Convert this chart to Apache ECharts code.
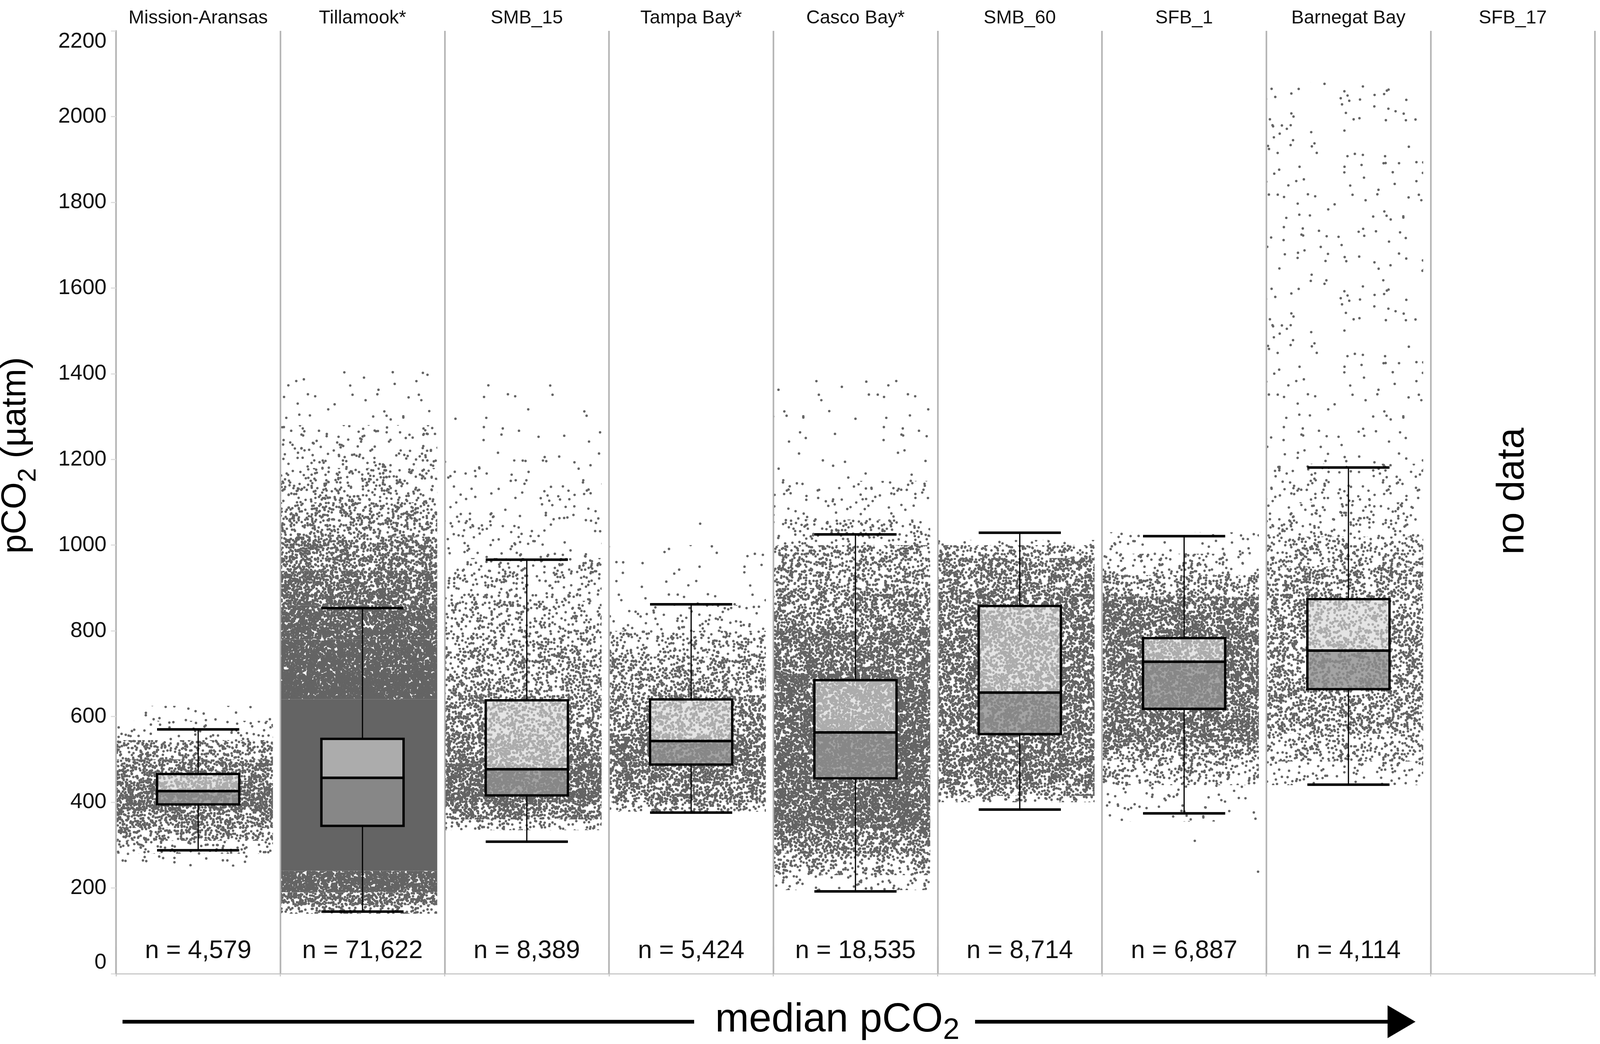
<!DOCTYPE html>
<html>
<head>
<meta charset="utf-8">
<title>pCO2 by site</title>
<script src="https://cdn.jsdelivr.net/npm/echarts@6/dist/echarts.min.js"></script>
<style>
  html, body { margin: 0; padding: 0; background: #fff; overflow: hidden; }
  #chart { width: 100vw; height: 100vh; }
</style>
</head>
<body>
<div id="chart"></div>
<script>
// sites, left to right in order of median pCO2
const sites = ['Mission-Aransas', 'Tillamook*', 'SMB_15', 'Tampa Bay*', 'Casco Bay*', 'SMB_60', 'SFB_1', 'Barnegat Bay', 'SFB_17'];
const sampleSizes = ['4,579', '71,622', '8,389', '5,424', '18,535', '8,714', '6,887', '4,114', null];

// box statistics (µatm)
const whiskerLow  = [288, 145, 308, 376, 192, 383, 374, 441];
const q1          = [395, 345, 416, 488, 456, 559, 618, 664];
const median      = [426, 457, 477, 543, 563, 656, 728, 754];
const q3          = [466, 548, 638, 640, 685, 858, 783, 874];
const whiskerHigh = [570, 853, 966, 862, 1025, 1029, 1021, 1181];

// jittered point clouds as bands: [site, from, to, share of the band covered by points]
const cloudBands = [
  [0, 250, 280, 0.03], [0, 280, 310, 0.16], [0, 310, 340, 0.4], [0, 340, 380, 0.6],
  [0, 380, 450, 0.75], [0, 450, 500, 0.6], [0, 500, 545, 0.38], [0, 545, 590, 0.1], [0, 590, 625, 0.025],
  [1, 140, 160, 0.35], [1, 160, 190, 0.68], [1, 190, 240, 0.9], [1, 240, 640, 1.0],
  [1, 640, 700, 0.97], [1, 700, 780, 0.93], [1, 780, 860, 0.86], [1, 860, 940, 0.74],
  [1, 940, 1020, 0.56], [1, 1020, 1100, 0.36], [1, 1100, 1180, 0.2], [1, 1180, 1280, 0.08],
  [1, 1280, 1410, 0.02],
  [2, 335, 360, 0.25], [2, 360, 400, 0.62], [2, 400, 490, 0.8], [2, 490, 560, 0.62],
  [2, 560, 650, 0.48], [2, 650, 760, 0.35], [2, 760, 870, 0.24], [2, 870, 970, 0.15],
  [2, 970, 1080, 0.06], [2, 1080, 1200, 0.03], [2, 1200, 1415, 0.008],
  [3, 378, 400, 0.35], [3, 400, 450, 0.58], [3, 450, 560, 0.68], [3, 560, 650, 0.52],
  [3, 650, 740, 0.4], [3, 740, 800, 0.22], [3, 800, 860, 0.1], [3, 860, 1000, 0.016],
  [4, 195, 230, 0.08], [4, 230, 280, 0.32], [4, 280, 340, 0.58], [4, 340, 700, 0.8],
  [4, 700, 800, 0.68], [4, 800, 900, 0.53], [4, 900, 1000, 0.37], [4, 1000, 1060, 0.15],
  [4, 1060, 1150, 0.05], [4, 1150, 1410, 0.012],
  [5, 400, 415, 0.25], [5, 415, 440, 0.5], [5, 440, 900, 0.64], [5, 900, 970, 0.54],
  [5, 970, 1000, 0.35], [5, 1000, 1012, 0.12],
  [6, 355, 440, 0.05], [6, 440, 500, 0.25], [6, 500, 540, 0.46], [6, 540, 880, 0.7],
  [6, 880, 930, 0.4], [6, 930, 980, 0.15], [6, 980, 1030, 0.06],
  [7, 440, 495, 0.08], [7, 495, 560, 0.26], [7, 560, 950, 0.42], [7, 950, 1020, 0.26],
  [7, 1020, 1100, 0.12], [7, 1100, 1190, 0.06], [7, 1190, 2080, 0.02]
];
// single stray points: [site, offset across the panel, value]
const strayPoints = [[6, 0.065, 310], [6, 0.45, 238], [3, 0.055, 1050]];

const noDataSite = 8;
const noDataValue = 1126;

// the reference figure is 4414 x 2673; everything is scaled to the window
const W = window.innerWidth, H = window.innerHeight;
const sx = W / 4414, sy = H / 2673, k = Math.min(sx, sy);
const X = v => v * sx, Y = v => v * sy, S = v => v * k;

const FONT = '"Liberation Sans", Arial, Helvetica, sans-serif';
const DOT_COLOR = '#646464';
const DOT_R = S(3.4);
const CLOUD_WIDTH = 0.95;
const CLOUD_SHIFT = -0.02;
const BOX_WIDTH = 0.5;
const UPPER_FILL = 'rgba(213,213,213,0.64)';
const LOWER_FILL = 'rgba(143,143,143,0.82)';
const PANEL_LINE = '#b6b6b6';

// speckled fill that stands for a band of the jittered point cloud (texture only)
const tiles = {};
function speckle(j) {
  const t = Math.sin(j * 12.9898) * 43758.5453;
  return t - Math.floor(t);
}
function dotFill(cover) {
  if (cover >= 0.99) return DOT_COLOR;
  if (tiles[cover]) return tiles[cover];
  const T = 512;
  const cv = document.createElement('canvas');
  cv.width = T; cv.height = T;
  const g = cv.getContext('2d');
  g.fillStyle = DOT_COLOR;
  const n = Math.round(-Math.log(1 - cover) * T * T / (Math.PI * DOT_R * DOT_R));
  for (let j = 0; j < n; j++) {
    const x = speckle(2 * j + 1) * T;
    const y = speckle(2 * j + 2) * T;
    for (const dx of [-T, 0, T]) {
      for (const dy of [-T, 0, T]) {
        const px = x + dx, py = y + dy;
        if (px < -DOT_R || px > T + DOT_R || py < -DOT_R || py > T + DOT_R) continue;
        g.beginPath();
        g.arc(px, py, DOT_R, 0, Math.PI * 2);
        g.fill();
      }
    }
  }
  tiles[cover] = { image: cv, repeat: 'repeat' };
  return tiles[cover];
}

function renderCloud(params, api) {
  const i = api.value(0);
  const bw = api.size([1, 0])[0];
  const top = api.coord([i, api.value(2)]);
  const bottom = api.coord([i, api.value(1)]);
  const w = bw * CLOUD_WIDTH;
  return {
    type: 'rect',
    shape: { x: top[0] + bw * CLOUD_SHIFT - w / 2, y: top[1], width: w, height: bottom[1] - top[1] },
    style: { fill: dotFill(api.value(3)) }
  };
}

function renderStray(params, api) {
  const bw = api.size([1, 0])[0];
  const p = api.coord([api.value(0), api.value(2)]);
  return { type: 'circle', shape: { cx: p[0] + api.value(1) * bw, cy: p[1], r: DOT_R }, style: { fill: DOT_COLOR } };
}

function renderBox(params, api) {
  const i = api.value(0);
  const x = api.coord([i, 0])[0];
  const w = api.size([1, 0])[0] * BOX_WIDTH;
  const y = d => api.coord([i, api.value(d)])[1];
  const lo = y(1), b1 = y(2), md = y(3), b3 = y(4), hi = y(5);
  const left = x - w / 2;
  const line = (x1, y1, x2, y2, lw) => ({ type: 'line', shape: { x1, y1, x2, y2 }, style: { stroke: '#000', lineWidth: S(lw) } });
  return {
    type: 'group',
    children: [
      line(x, hi, x, b3, 3.3),
      line(x, b1, x, lo, 3.3),
      line(left, hi, left + w, hi, 7),
      line(left, lo, left + w, lo, 7),
      { type: 'rect', shape: { x: left, y: b3, width: w, height: md - b3 }, style: { fill: UPPER_FILL } },
      { type: 'rect', shape: { x: left, y: md, width: w, height: b1 - md }, style: { fill: LOWER_FILL } },
      { type: 'rect', shape: { x: left, y: b3, width: w, height: b1 - b3 }, style: { fill: 'none', stroke: '#000', lineWidth: S(6.5) } },
      line(left, md, left + w, md, 7)
    ]
  };
}

function renderCount(params, api) {
  const i = api.value(0);
  const p = api.coord([i, 0]);
  return {
    type: 'text',
    x: p[0], y: p[1] - Y(58),
    style: { text: 'n = ' + sampleSizes[i], fontSize: S(70), fontFamily: FONT, fill: '#111', align: 'center', verticalAlign: 'middle' }
  };
}

function renderNoData(params, api) {
  const p = api.coord([api.value(0), api.value(1)]);
  return {
    type: 'text',
    x: p[0], y: p[1], rotation: Math.PI / 2,
    style: { text: 'no data', fontSize: S(105), fontFamily: FONT, fill: '#000', align: 'center', verticalAlign: 'middle' }
  };
}

const boxData = median.map((m, i) => [i, whiskerLow[i], q1[i], m, q3[i], whiskerHigh[i]]);
const countData = sampleSizes.map((n, i) => [i, 0]).filter(d => sampleSizes[d[0]] !== null);

const chart = echarts.init(document.getElementById('chart'));
chart.setOption({
  animation: false,
  backgroundColor: '#fff',
  grid: { left: X(320), right: X(14), top: Y(79), bottom: Y(180), containLabel: false },
  xAxis: [{
    type: 'category',
    data: sites,
    position: 'top',
    boundaryGap: true,
    axisLine: { lineStyle: { color: '#d0d0d0', width: S(3) } },
    axisTick: { show: true, interval: 0, alignWithLabel: false, length: Y(69), lineStyle: { color: PANEL_LINE, width: S(4.5) } },
    axisLabel: { interval: 0, margin: Y(8), fontSize: S(52), fontFamily: FONT, color: '#111' },
    splitLine: { show: true, interval: 0, lineStyle: { color: PANEL_LINE, width: S(4.5) } }
  }, {
    type: 'category',
    data: sites,
    position: 'bottom',
    boundaryGap: true,
    axisLine: { lineStyle: { color: '#c8c8c8', width: S(3) } },
    axisTick: { show: true, interval: 0, length: Y(7), lineStyle: { color: '#c8c8c8', width: S(3) } },
    axisLabel: { show: false },
    splitLine: { show: false }
  }],
  yAxis: {
    type: 'value',
    min: 0, max: 2200, interval: 200,
    axisLine: { show: true, lineStyle: { color: PANEL_LINE, width: S(4.5) } },
    axisTick: { show: true, length: X(14), lineStyle: { color: '#dcdcdc', width: S(3) } },
    axisLabel: {
      margin: X(26), fontSize: S(60), fontFamily: FONT, color: '#111',
      formatter: v => String(v),
      verticalAlignMinLabel: 'bottom', verticalAlignMaxLabel: 'top'
    },
    splitLine: { show: false }
  },
  series: [
    { type: 'custom', name: 'cloud', xAxisIndex: 0, renderItem: renderCloud, data: cloudBands, encode: { x: 0, y: [1, 2] }, silent: true, z: 2 },
    { type: 'custom', name: 'stray', xAxisIndex: 0, renderItem: renderStray, data: strayPoints, encode: { x: 0, y: 2 }, silent: true, z: 2 },
    { type: 'custom', name: 'box', xAxisIndex: 0, renderItem: renderBox, data: boxData, encode: { x: 0, y: [1, 2, 3, 4, 5] }, silent: true, z: 3 },
    { type: 'custom', name: 'n', xAxisIndex: 0, renderItem: renderCount, data: countData, encode: { x: 0, y: 1 }, silent: true, z: 4 },
    { type: 'custom', name: 'nodata', xAxisIndex: 0, renderItem: renderNoData, data: [[noDataSite, noDataValue]], encode: { x: 0, y: 1 }, silent: true, z: 4 }
  ],
  graphic: [
    {
      type: 'text', x: X(44), y: Y(1166), rotation: Math.PI / 2,
      style: {
        text: '{a|pCO}{s|2}{a| (µatm)}',
        align: 'center', verticalAlign: 'middle', fill: '#000',
        rich: {
          a: { fontSize: S(96), lineHeight: S(140), fontFamily: FONT, color: '#000' },
          s: { fontSize: S(70), lineHeight: S(80), verticalAlign: 'bottom', fontFamily: FONT, color: '#000' }
        }
      }
    },
    { type: 'line', shape: { x1: X(338), y1: Y(2616), x2: X(1915), y2: Y(2616) }, style: { stroke: '#000', lineWidth: S(10) } },
    { type: 'line', shape: { x1: X(2690), y1: Y(2616), x2: X(3840), y2: Y(2616) }, style: { stroke: '#000', lineWidth: S(10) } },
    { type: 'polygon', shape: { points: [[X(3828), Y(2574)], [X(3905), Y(2616)], [X(3828), Y(2658)]] }, style: { fill: '#000' } },
    {
      type: 'text', x: X(2310), y: Y(2612),
      style: {
        text: '{a|median pCO}{s|2}',
        align: 'center', verticalAlign: 'middle', fill: '#000',
        rich: {
          a: { fontSize: S(112), lineHeight: S(140), fontFamily: FONT, color: '#000' },
          s: { fontSize: S(82), lineHeight: S(92), verticalAlign: 'bottom', fontFamily: FONT, color: '#000' }
        }
      }
    }
  ]
});
</script>
</body>
</html>
